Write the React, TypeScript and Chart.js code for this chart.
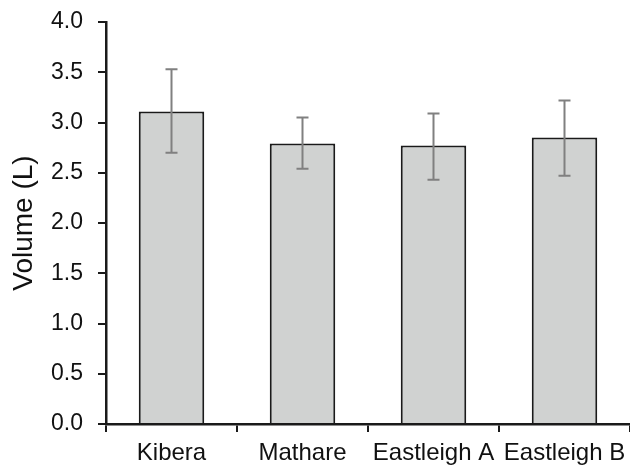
import React, { useEffect, useRef } from "react";
import { Chart, registerables } from "chart.js";

Chart.register(...registerables);

const categories = ["Kibera", "Mathare", "Eastleigh A", "Eastleigh B"];
const means = [3.11, 2.79, 2.77, 2.85];
const errUpper = [3.53, 3.05, 3.09, 3.22];
const errLower = [2.70, 2.54, 2.43, 2.47];
const yTicks = [0, 0.5, 1.0, 1.5, 2.0, 2.5, 3.0, 3.5, 4.0];

const FONT = "'Liberation Sans', Arial, Helvetica, sans-serif";

const errorBarPlugin = {
  id: "errorBars",
  afterDatasetsDraw(chart: any) {
    const { ctx } = chart;
    const meta = chart.getDatasetMeta(0);
    const y = chart.scales.y;
    ctx.save();
    ctx.strokeStyle = "#808080";
    ctx.lineWidth = 2;
    meta.data.forEach((bar: any, i: number) => {
      const x = bar.x;
      const yTop = y.getPixelForValue(errUpper[i]);
      const yBot = y.getPixelForValue(errLower[i]);
      const cap = 6;
      ctx.beginPath();
      ctx.moveTo(x, yTop);
      ctx.lineTo(x, yBot);
      ctx.moveTo(x - cap, yTop);
      ctx.lineTo(x + cap, yTop);
      ctx.moveTo(x - cap, yBot);
      ctx.lineTo(x + cap, yBot);
      ctx.stroke();
    });
    ctx.restore();
  },
};

export default function App() {
  const ref = useRef<HTMLCanvasElement | null>(null);
  useEffect(() => {
    if (!ref.current) return;
    const chart = new Chart(ref.current, {
      type: "bar",
      data: {
        labels: categories,
        datasets: [
          {
            data: means,
            backgroundColor: "#d0d2d1",
            borderColor: "#1a1a1a",
            borderWidth: 2,
            barPercentage: 0.5,
            categoryPercentage: 1.0,
          },
        ],
      },
      options: {
        animation: false,
        responsive: false,
        devicePixelRatio: 1,
        layout: { padding: { top: 22, left: 0, right: 0, bottom: 0 } },
        plugins: { legend: { display: false }, tooltip: { enabled: false } },
        scales: {
          x: {
            offset: true,
            grid: {
              offset: true,
              drawOnChartArea: false,
              tickLength: 8,
              color: "#1a1a1a",
              lineWidth: 2,
            },
            border: { display: true, color: "#1a1a1a", width: 2.5 },
            ticks: {
              color: "#111111",
              font: { family: FONT, size: 24 },
              padding: 7,
              maxRotation: 0,
              minRotation: 0,
              autoSkip: false,
            },
            afterFit(scale: any) {
              scale.height = 43;
              scale.paddingLeft = 0;
              scale.paddingRight = 0;
            },
          },
          y: {
            min: 0,
            max: 4,
            afterBuildTicks(scale: any) {
              scale.ticks = yTicks.map((v) => ({ value: v }));
            },
            grid: {
              drawOnChartArea: false,
              tickLength: 8,
              color: "#1a1a1a",
              lineWidth: 2,
            },
            border: { display: true, color: "#1a1a1a", width: 2.5 },
            ticks: {
              color: "#111111",
              font: { family: FONT, size: 23 },
              padding: 15,
              callback: (v: any) => Number(v).toFixed(1),
            },
            title: {
              display: true,
              text: "Volume (L)",
              color: "#111111",
              font: { family: FONT, size: 28 },
              padding: { top: 7, bottom: 0 },
            },
            afterFit(scale: any) {
              scale.width = 106;
              scale.paddingTop = 0;
              scale.paddingBottom = 0;
            },
          },
        },
      },
      plugins: [errorBarPlugin],
    });
    return () => chart.destroy();
  }, []);
  return (
    <div style={{ position: "fixed", left: 0, top: 0, width: 630, height: 467, background: "#fff" }}>
      <canvas ref={ref} width={630} height={467} />
    </div>
  );
}
